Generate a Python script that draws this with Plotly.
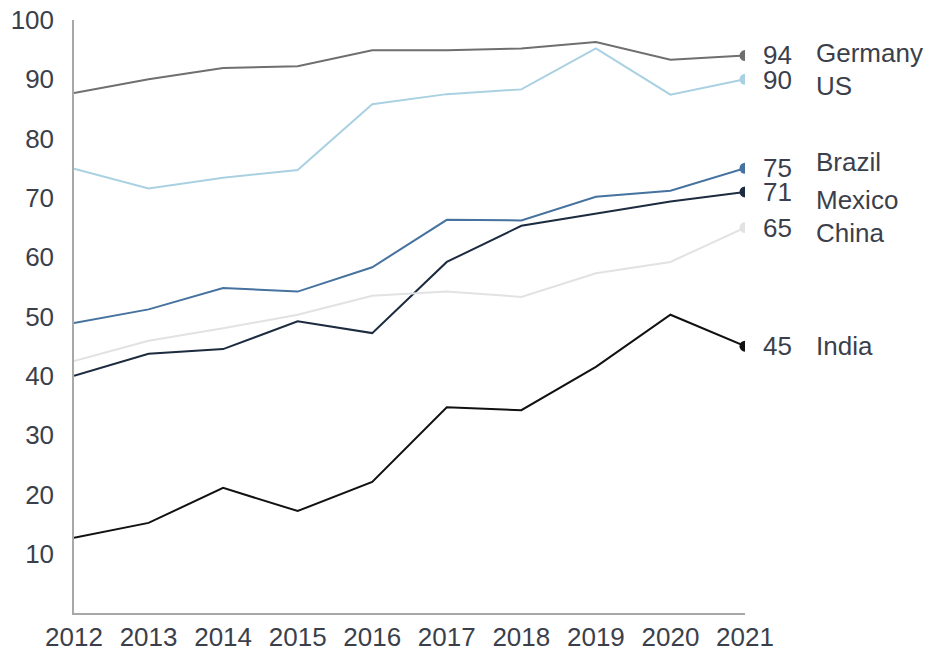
import plotly.graph_objects as go

years = [2012, 2013, 2014, 2015, 2016, 2017, 2018, 2019, 2020, 2021]

germany = [87.7, 90.0, 91.9, 92.2, 94.9, 94.9, 95.2, 96.3, 93.3, 94]
us      = [74.9, 71.6, 73.4, 74.7, 85.8, 87.5, 88.3, 95.2, 87.4, 90]
brazil  = [48.9, 51.2, 54.8, 54.2, 58.3, 66.3, 66.2, 70.2, 71.2, 75]
mexico  = [40.0, 43.7, 44.5, 49.2, 47.2, 59.2, 65.3, 67.4, 69.4, 71]
china   = [42.5, 45.9, 48.0, 50.3, 53.5, 54.2, 53.3, 57.3, 59.2, 65]
india   = [12.7, 15.2, 21.1, 17.2, 22.1, 34.7, 34.2, 41.5, 50.3, 45]

series_names = ["Germany", "US", "Brazil", "Mexico", "China", "India"]
series_values = [germany, us, brazil, mexico, china, india]
colors = ["#6f6f6f", "#a9d1e2", "#46729f", "#1c2b3f", "#e2e2e2", "#111111"]
name_yshift = [3, -7, 6, -8, -5, 0]
value_yshift = [1, -1, 0, 0, 0, 0]

ytick_vals = [10, 20, 30, 40, 50, 60, 70, 80, 90, 100]

text_color = "#3b3f4b"
font_family = "Liberation Sans, Arial, sans-serif"
fs = 26

fig = go.Figure()
for name, vals, col in zip(series_names, series_values, colors):
    fig.add_trace(go.Scatter(x=years, y=vals, mode="lines", line=dict(color=col, width=2),
                             name=name, showlegend=False, hoverinfo="skip"))
    fig.add_trace(go.Scatter(x=[years[-1]], y=[vals[-1]], mode="markers",
                             marker=dict(color=col, size=11), showlegend=False, hoverinfo="skip"))

for name, vals, ns, vs in zip(series_names, series_values, name_yshift, value_yshift):
    fig.add_annotation(x=years[-1], y=vals[-1], text=str(round(vals[-1])), showarrow=False,
                       xanchor="left", yanchor="middle", xshift=16, yshift=vs,
                       font=dict(size=fs, color=text_color, family=font_family))
    fig.add_annotation(x=years[-1], y=vals[-1], text=name, showarrow=False,
                       xanchor="left", yanchor="middle", xshift=69, yshift=ns,
                       font=dict(size=fs, color=text_color, family=font_family))

fig.update_layout(
    width=934, height=651,
    margin=dict(l=74, r=189, t=20, b=38, autoexpand=False),
    paper_bgcolor="white", plot_bgcolor="white",
    font=dict(family=font_family, size=fs, color=text_color),
)
fig.update_xaxes(range=[2012, 2021], tickvals=years, ticktext=[str(y) for y in years],
                 showgrid=False, zeroline=False, showline=True, linecolor="#a8a8a8", linewidth=1.5,
                 ticks="", automargin=False, tickfont=dict(size=fs, color=text_color))
fig.update_yaxes(range=[0, 100], tickvals=ytick_vals, showgrid=False, zeroline=False,
                 showline=True, linecolor="#a8a8a8", linewidth=1.5, ticks="", automargin=False,
                 ticklabelstandoff=13, tickfont=dict(size=fs, color=text_color))

fig.write_html("out.html", config={"displayModeBar": False},
               post_script="document.body.style.margin='0';document.body.style.overflow='hidden';")
